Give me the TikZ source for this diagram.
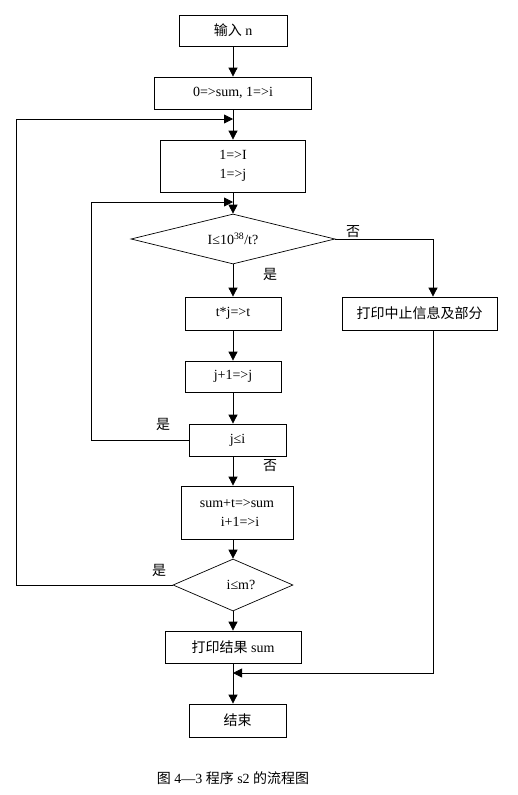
\documentclass[tikz,border=0pt]{standalone}
\usepackage{fontspec}
\setmainfont{Liberation Serif}
\newfontfamily\cjk{Noto Sans CJK SC}
\usetikzlibrary{shapes.geometric,arrows.meta}

\begin{document}
\begin{tikzpicture}[x=1pt,y=-1pt,
		every node/.style={font=\fontsize{14}{16}\selectfont},
		box/.style={draw,line width=0.8pt,inner sep=0pt},
		dia/.style={draw,diamond,aspect=4,inner sep=0pt,line width=0.7pt},
		arr/.style={line width=0.8pt,-{Triangle[length=9pt,width=9pt]}}]
			\useasboundingbox (0,0) rectangle (517,795);
			
			\node [box,minimum width=108pt,minimum height=31pt] (in) at (233,30.5) {{\cjk 输入} n\hspace{16pt}};
			\node [box,minimum width=157pt,minimum height=32pt] (init) at (233,93) {0=>sum, 1=>i\hspace{24pt}};
			\node [box,minimum width=145pt,minimum height=52pt,align=center] (set) at (233,166) {1=>I\\[3pt]1=>j};
			\node [dia,minimum width=204pt,minimum height=50pt] (d1) at (233,239) {I≤10\textsuperscript{38}/t?};
			\node [box,minimum width=96pt,minimum height=33pt] (mul) at (233,313.5) {t*j=>t\hspace{30pt}};
			\node [box,minimum width=155pt,minimum height=33pt] (err) at (419.5,313.5) {\cjk 打印中止信息及部分};
			\node [box,minimum width=96pt,minimum height=31pt] (inc) at (233,376.5) {j+1=>j\hspace{8pt}};
			\node [box,minimum width=97pt,minimum height=32pt] (jle) at (237.5,440) {j≤i\hspace{28pt}};
			\node [box,minimum width=112pt,minimum height=53pt,align=center] (acc) at (237,512.5) {sum+t=>sum\\[3pt]\hspace{6pt}i+1=>i};
			\node [dia,minimum width=120pt,minimum height=52pt] (d2) at (233,585) {\hspace{16pt}i≤m?};
			\node [box,minimum width=136pt,minimum height=32pt] (out) at (233,647) {{\cjk 打印结果} sum};
			\node [box,minimum width=97pt,minimum height=33pt] (end) at (237.5,720.5) {{\cjk 结束}\hspace{20pt}};
			
			\coordinate (m1) at (233,119);
			\coordinate (m2) at (233,202);
			\coordinate (m3) at (233,673);
			\coordinate (r1) at (433,239);
			
			\draw[arr] (in.south) -- (init.north);
			\draw[arr] (init.south) -- (set.north);
			\draw[arr] (set.south) -- (d1.north);
			\draw[arr] (d1.south) -- (mul.north);
			\draw[arr] (mul.south) -- (inc.north);
			\draw[arr] (inc.south) -- (inc.south |- jle.north);
			\draw[arr] (jle.south -| inc.south) -- (inc.south |- acc.north);
			\draw[arr] (acc.south -| d2.north) -- (d2.north);
			\draw[arr] (d2.south) -- (out.north);
			\draw[arr] (out.south) -- (out.south |- end.north);
			
			\draw[arr] (d1.east) -- (r1) -- (r1 |- err.north);
			\draw[arr] (r1 |- err.south) -- (r1 |- m3) -- (m3);
			\draw[arr] (jle.west) -- ++(-97,0) |- (m2);
			\draw[arr] (d2.west) -- ++(-156,0) |- (m1);
			
			\node (no1) at (353,232) {\cjk 否};
			\node (yes1) at (270,274) {\cjk 是};
			\node (yes2) at (163,424) {\cjk 是};
			\node (no2) at (270,466) {\cjk 否};
			\node (yes3) at (159,570) {\cjk 是};
			\node (cap) at (233,778) {{\cjk 图} 4—3 {\cjk 程序} s2 {\cjk 的流程图}};
		\end{tikzpicture}
\end{document}
